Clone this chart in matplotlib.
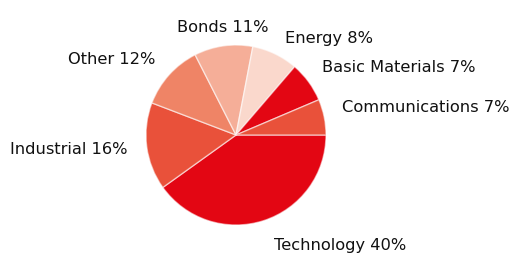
import matplotlib
matplotlib.use("Agg")
import matplotlib.pyplot as plt

categories = ["Technology", "Industrial", "Other", "Bonds", "Energy",
              "Basic Materials", "Communications"]
shares = [40.1, 15.7, 11.7, 10.5, 8.3, 7.3, 6.4]
pct_labels = [40, 16, 12, 11, 8, 7, 7]
colors = ["#E30613", "#E9513A", "#EF8466", "#F5AE98", "#FAD8CC",
          "#E30613", "#E9513A"]

# label anchor positions in pixels (left edge x, vertical centre y from top)
label_pos = [(274, 246), (10, 150), (68, 59), (177, 27), (285, 39),
             (322, 67), (342, 107)]

W, H = 512, 255
fig = plt.figure(figsize=(W / 100, H / 100), dpi=100)
ax = fig.add_axes([0, 0, 1, 1])

ax.pie(shares, colors=colors, startangle=0, counterclock=False,
       center=(236, H - 136), radius=90, frame=True,
       wedgeprops=dict(edgecolor=(1, 1, 1, 0.55), linewidth=1.0))
ax.set_xlim(0, W)
ax.set_ylim(0, H)
ax.set_aspect("equal")
ax.axis("off")

for cat, p, (x, y) in zip(categories, pct_labels, label_pos):
    ax.text(x, H - y, f"{cat} {p}%", ha="left", va="center",
            fontsize=11.7, color="#111111", family="DejaVu Sans")

fig.savefig("out.png", dpi=100)
